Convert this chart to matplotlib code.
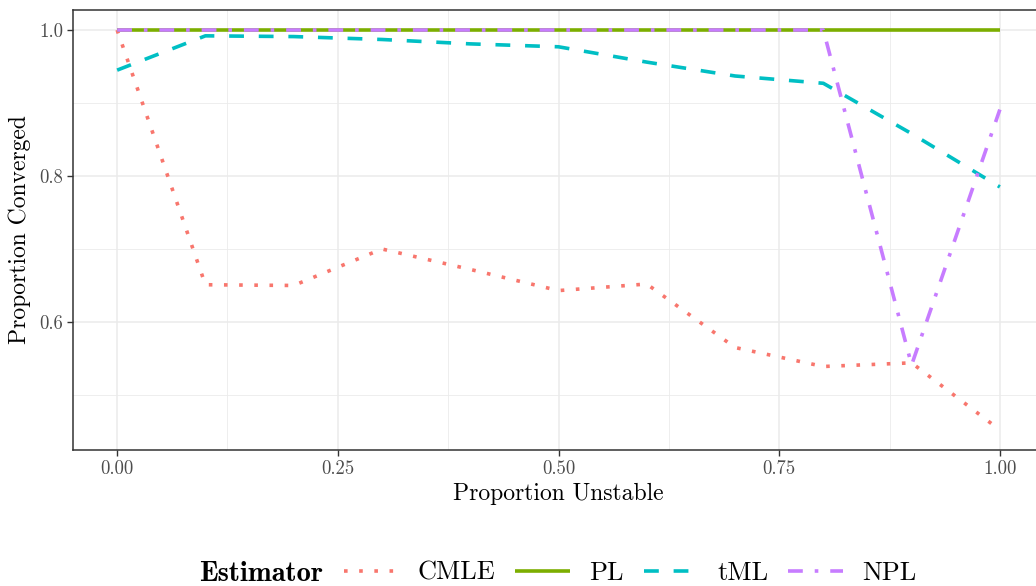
import matplotlib
matplotlib.use("Agg")
import matplotlib.pyplot as plt
import numpy as np

# ---- data ----
prop_unstable = [0.0, 0.1, 0.2, 0.3, 0.4, 0.5, 0.6, 0.7, 0.8, 0.9, 1.0]
cmle = [1.0, 0.651, 0.650, 0.700, 0.672, 0.643, 0.652, 0.565, 0.539, 0.544, 0.452]
pl = [1.0, 1.0, 1.0, 1.0, 1.0, 1.0, 1.0, 1.0, 1.0, 1.0, 1.0]
tml = [0.945, 0.992, 0.991, 0.987, 0.981, 0.977, 0.956, 0.937, 0.927, 0.858, 0.785]
npl = [1.0, 1.0, 1.0, 1.0, 1.0, 1.0, 1.0, 1.0, 1.0, 0.541, 0.891]
series_names = ["CMLE", "PL", "tML", "NPL"]
x_ticks = [0.0, 0.25, 0.5, 0.75, 1.0]
x_ticklabels = ["0.00", "0.25", "0.50", "0.75", "1.00"]
y_ticks = [0.6, 0.8, 1.0]
y_ticklabels = ["0.6", "0.8", "1.0"]

colors = ["#F8766D", "#7CAE00", "#00BFC4", "#C77CFF"]
styles = [(0, (1, 3.2)), "-", (0, (4.1, 4.1)), (0, (4.1, 3.3, 1, 3.3))]

plt.rcParams["font.family"] = ["cmr10", "DejaVu Serif"]
plt.rcParams["axes.unicode_minus"] = False

fig = plt.figure(figsize=(10.36, 5.86), dpi=100)
W, H = 1036, 586
left_px, right_px, top_px, bot_px = 73, 1044, 10, 450
ax = fig.add_axes([left_px / W, 1 - bot_px / H, (right_px - left_px) / W, (bot_px - top_px) / H])

all_y = np.concatenate([cmle, pl, tml, npl])
ymin, ymax = all_y.min(), all_y.max()
yr = ymax - ymin
ax.set_xlim(-0.05, 1.05)
ax.set_ylim(ymin - 0.05 * yr, ymax + 0.05 * yr)

# grid
for v in [0.125, 0.375, 0.625, 0.875]:
    ax.axvline(v, color="#EBEBEB", lw=0.6, zorder=0)
for v in [0.5, 0.7, 0.9]:
    ax.axhline(v, color="#EBEBEB", lw=0.6, zorder=0)
for v in x_ticks:
    ax.axvline(v, color="#EBEBEB", lw=1.1, zorder=0)
for v in y_ticks:
    ax.axhline(v, color="#EBEBEB", lw=1.1, zorder=0)

handles = []
for name, ys, c, ls in zip(series_names, [cmle, pl, tml, npl], colors, styles):
    h, = ax.plot(prop_unstable, ys, color=c, lw=2.6, linestyle=ls,
                 dash_capstyle="butt", solid_capstyle="butt", label=name, zorder=3)
    handles.append(h)

ax.set_xticks(x_ticks)
ax.set_xticklabels(x_ticklabels)
ax.set_yticks(y_ticks)
ax.set_yticklabels(y_ticklabels)
ax.tick_params(axis="both", length=4, width=1.0, color="#333333",
               labelcolor="#4D4D4D", labelsize=13.5, pad=3)
for s in ax.spines.values():
    s.set_color("#333333")
    s.set_linewidth(1.1)

ax.set_xlabel("Proportion Unstable", fontsize=17, labelpad=4)
ax.set_ylabel("Proportion Converged", fontsize=17, labelpad=6)

# legend
fig.text(323 / W, 1 - 574 / H, "Estimator", fontsize=20.5, family=["cmb10", "DejaVu Serif"],
         fontweight="bold", ha="right", va="center")
leg = fig.legend(handles=handles, labels=series_names, ncol=4, frameon=False,
                 loc="center left", bbox_to_anchor=(344 / W, 1 - 573 / H),
                 fontsize=19, handlelength=2.05, handletextpad=0.75,
                 columnspacing=0.75, borderpad=0, borderaxespad=0)

fig.savefig("out.png", dpi=100)
